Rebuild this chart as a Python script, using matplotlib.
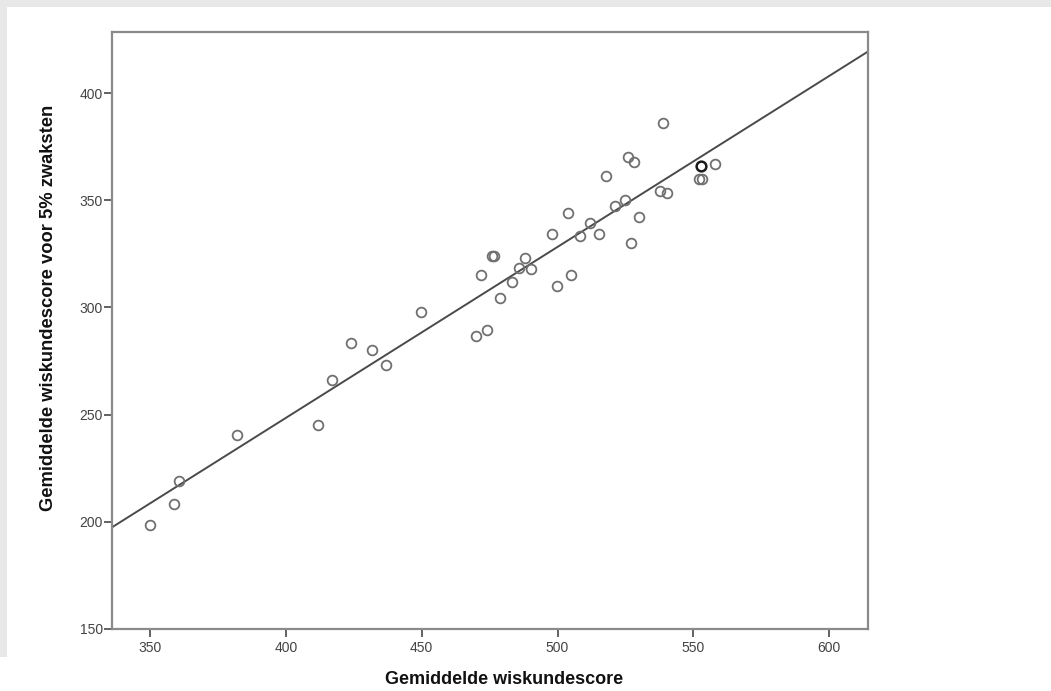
import matplotlib
matplotlib.use("Agg")
import matplotlib.pyplot as plt
import numpy as np

# Data
gemiddelde = [350.0, 358.8, 360.7, 381.9, 411.9, 417.0, 423.9, 431.7, 436.8, 449.9,
              469.9, 474.0, 478.9, 471.9, 475.9, 476.8, 483.2, 485.8, 488.2, 490.3,
              499.9, 504.9, 498.0, 503.8, 508.1, 512.0, 515.2, 518.0, 521.2, 525.0,
              526.0, 528.2, 527.1, 530.0, 539.0, 537.7, 540.2, 552.2, 553.2, 558.1]
zwaksten = [198.3, 208.5, 219.2, 240.3, 245.3, 266.3, 283.3, 280.1, 273.3, 298.1,
            286.8, 289.5, 304.2, 315.2, 324.0, 324.0, 312.1, 318.3, 323.0, 317.9,
            310.2, 315.2, 334.1, 344.2, 333.3, 339.2, 334.1, 361.1, 347.3, 350.3,
            370.2, 367.7, 329.9, 342.3, 386.2, 354.2, 353.2, 360.0, 360.0, 367.1]
highlight_x = [552.9]
highlight_y = [366.2]

x_ticks = [350, 400, 450, 500, 550, 600]
y_ticks = [150, 200, 250, 300, 350, 400]
x_label = "Gemiddelde wiskundescore"
y_label = "Gemiddelde wiskundescore voor 5% zwaksten"

W, H = 1051, 691
fig = plt.figure(figsize=(W / 100, H / 100), dpi=100)
fig.patch.set_facecolor("white")

# light gray page border (top band and left strip)
fig.patches.append(plt.Rectangle((0, 1 - 7 / H), 1, 7 / H, transform=fig.transFigure,
                                 facecolor="#e8e8e8", edgecolor="none", zorder=0))
fig.patches.append(plt.Rectangle((0, 1 - 657 / H), 7 / W, 657 / H, transform=fig.transFigure,
                                 facecolor="#e8e8e8", edgecolor="none", zorder=0))

left, right, top, bottom = 112, 868, 32, 629
ax = fig.add_axes([left / W, 1 - bottom / H, (right - left) / W, (bottom - top) / H])

xmin, xmax = 336, 614.3
ymin, ymax = 150, 428.5
ax.set_xlim(xmin, xmax)
ax.set_ylim(ymin, ymax)

# regression line through the data
coef = np.polyfit(gemiddelde + highlight_x, zwaksten + highlight_y, 1)
xl = np.array([xmin, xmax])
ax.plot(xl, np.polyval(coef, xl), color="#4a4a4a", lw=1.4, zorder=2)

ax.plot(gemiddelde, zwaksten, linestyle="none", marker="o", ms=7,
        markerfacecolor="none", markeredgecolor="#707070", markeredgewidth=1.3, zorder=3)
ax.plot(highlight_x, highlight_y, linestyle="none", marker="o", ms=7,
        markerfacecolor="none", markeredgecolor="#1a1a1a", markeredgewidth=1.8, zorder=4)

for s in ax.spines.values():
    s.set_color("#8a8a8a")
    s.set_linewidth(1.6)

ax.set_xticks(x_ticks)
ax.set_yticks(y_ticks)
ax.set_xticklabels([str(v) for v in x_ticks])
ax.set_yticklabels([str(v) for v in y_ticks])
ax.tick_params(axis="both", direction="out", length=5.5, width=1.3, color="#555555",
               labelsize=10, labelcolor="#444444")
ax.tick_params(axis="x", pad=3.5)
ax.tick_params(axis="y", pad=1)
for lab in ax.get_xticklabels() + ax.get_yticklabels():
    lab.set_family("Liberation Sans")

ax.set_xlabel(x_label, fontsize=13, fontweight="bold", family="Liberation Sans",
              color="#111111", va="center")
ax.set_ylabel(y_label, fontsize=13.2, fontweight="bold", family="Liberation Sans",
              color="#111111", va="center")
ax.xaxis.set_label_coords((504 - left) / (right - left), (bottom - 679) / (bottom - top))
ax.yaxis.set_label_coords((49 - left) / (right - left), (bottom - 308) / (bottom - top))

fig.savefig("out.png", dpi=100, facecolor="white")
